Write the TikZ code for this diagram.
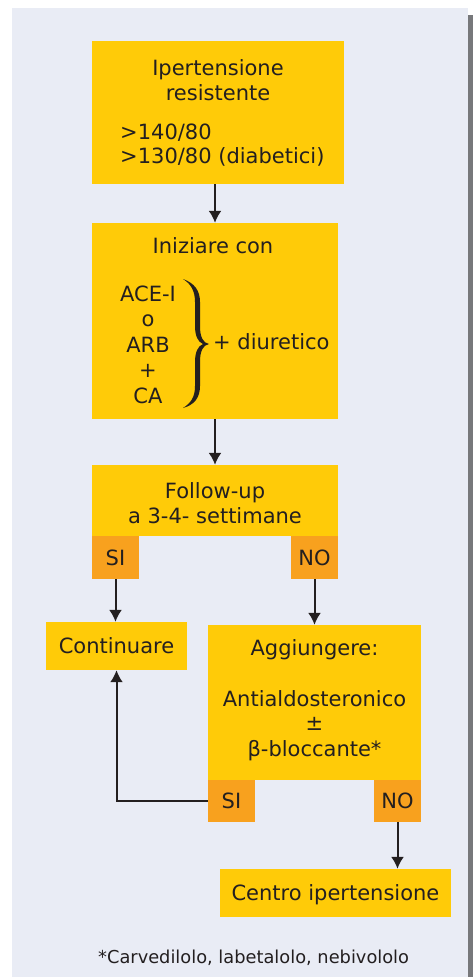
\documentclass[tikz,border=0pt]{standalone}
\usepackage{fontspec}
\setmainfont{DejaVu Sans}
\usetikzlibrary{arrows.meta,positioning}
\definecolor{bgblue}{HTML}{E9ECF5}
\definecolor{boxyellow}{HTML}{FFCB08}
\definecolor{taborange}{HTML}{F8A11E}
\definecolor{edgegrey}{HTML}{77787B}
\definecolor{ink}{HTML}{231F20}
\newcommand\mainfs{\fontsize{21}{25}\selectfont}
\newcommand\notefs{\fontsize{17.8}{21}\selectfont}

\begin{document}
\begin{tikzpicture}[x=1pt,y=-1pt,
  box/.style={fill=boxyellow,inner sep=0pt,text=ink,font=\mainfs,
              text height=15pt,text depth=0pt},
  tab/.style={fill=taborange,inner sep=0pt,minimum width=47pt,minimum height=43pt,
              text=ink,font=\mainfs,text height=15pt,text depth=0pt},
  txt/.style={inner sep=0pt,text=ink,font=\mainfs,anchor=base},
  arr/.style={-{Latex[length=12pt,width=13pt]},line width=2pt,draw=ink}]
\useasboundingbox (0,0) rectangle (473,977);
\fill[bgblue] (12,8) rectangle (468,977);
\fill[edgegrey] (468,15) rectangle (473,977);
% boxes
\node[box,minimum width=252pt,minimum height=143pt] (start) at (218,112.5) {};
\node[box,minimum width=246pt,minimum height=196pt] (init) at (215,321) {};
\node[box,minimum width=246pt,minimum height=71pt] (follow) at (215,500.5) {};
\node[tab] (si1) at (115.5,557.5) {SI};
\node[tab] (no1) at (314.5,557.5) {NO};
\node[box,minimum width=141pt,minimum height=48pt] (cont) at (116.5,646) {Continuare};
\node[box,minimum width=213pt,minimum height=155pt] (add) at (314.5,702.5) {};
\node[tab,minimum height=42pt] (si2) at (231.5,801) {SI};
\node[tab,minimum height=42pt] (no2) at (397.5,801) {NO};
\node[box,minimum width=231pt,minimum height=48pt] (centre) at (335.5,893) {Centro ipertensione};
% texts
\node[txt] (t1a) at (218,75) {Ipertensione};
\node[txt] (t1b) at (218,100) {resistente};
\node[txt,anchor=base west] (t1c) at (120,139) {>140/80};
\node[txt,anchor=base west] (t1d) at (120,163) {>130/80 (diabetici)};
\node[txt] (t2a) at (213,253) {Iniziare con};
\foreach \lbl/\yy [count=\i] in {ACE-I/301,o/326.5,ARB/352,+/377.5,CA/403}
  \node[txt] (drug\i) at (148,\yy) {\lbl};
% curly brace
\fill[ink] (183,279) .. controls (194,283) and (200,290) .. (200,302)
  -- (200,326) .. controls (200,337) and (203,343) .. (209,344)
  .. controls (203,345) and (200,351) .. (200,362)
  -- (200,386) .. controls (200,398) and (194,405) .. (183,408)
  .. controls (191,403) and (195,397) .. (195,386)
  -- (195,362) .. controls (195,352) and (198,346) .. (203,344)
  .. controls (198,342) and (195,336) .. (195,326)
  -- (195,302) .. controls (195,291) and (191,284) .. (183,279) -- cycle;
\node[txt,anchor=base west] (diur) at (213,349) {+ diuretico};
\node[txt] (t3a) at (215,498) {Follow-up};
\node[txt] (t3b) at (215,523) {a 3-4- settimane};
\node[txt] (t4a) at (314.5,655) {Aggiungere:};
\node[txt] (t4b) at (314.5,706) {Antialdosteronico};
\node[txt] (t4c) at (314.5,730) {±};
\node[txt] (t4d) at (314.5,756) {β-bloccante*};
\node[txt,font=\notefs,anchor=base west] (note) at (98,963)
  {*Carvedilolo, labetalolo, nebivololo};
% connectors
\draw[arr] (init.north |- start.south) -- (init.north);
\draw[arr] (init) -- (follow);
\draw[arr] (si1.south) -- (si1.south |- cont.north);
\draw[arr] (no1.south) -- (no1.south |- add.north);
\draw[arr] (si2.west) -| (cont.south);
\draw[arr] (no2.south) -- (no2.south |- centre.north);
\end{tikzpicture}
\end{document}
